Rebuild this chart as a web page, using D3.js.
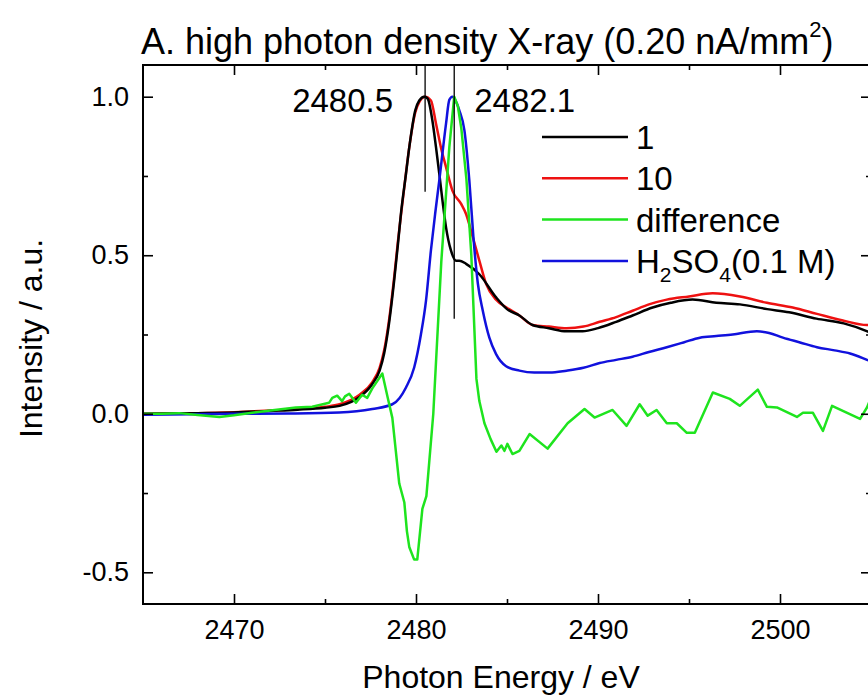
<!DOCTYPE html>
<html>
<head>
<meta charset="utf-8">
<script src="https://cdn.jsdelivr.net/npm/d3@7"></script>
<style>
  html, body { margin: 0; padding: 0; background: #fff; }
  svg { display: block; font-family: "Liberation Sans", Arial, Helvetica, sans-serif; }
</style>
</head>
<body>
<svg id="chart" width="868" height="700"></svg>
<script>
// ---------- data ----------
const energy1 = [2465, 2468, 2470, 2472, 2473.5, 2475, 2475.8, 2476.9, 2477.6, 2478.0, 2478.25, 2478.53, 2478.8, 2479.0, 2479.17, 2479.45, 2479.63, 2479.96, 2480.18, 2480.46, 2480.64, 2480.9, 2481.1, 2481.28, 2481.46, 2481.65, 2481.92, 2482.2, 2482.38, 2482.75, 2483.48, 2484.4, 2485.0, 2485.68, 2486.4, 2487.3, 2488.27, 2489.15, 2490.0, 2491.0, 2491.9, 2493.0, 2494.0, 2495.2, 2496.5, 2497.8, 2499.3, 2500.5, 2502.0, 2503.5, 2504.8, 2505];
const intensity1 = [0.0, 0.002, 0.004, 0.009, 0.013, 0.019, 0.025, 0.053, 0.094, 0.136, 0.19, 0.29, 0.42, 0.53, 0.63, 0.757, 0.84, 0.957, 0.988, 1.0, 0.994, 0.925, 0.84, 0.757, 0.67, 0.588, 0.515, 0.483, 0.483, 0.473, 0.44, 0.367, 0.33, 0.31, 0.28, 0.27, 0.26, 0.26, 0.27, 0.29, 0.31, 0.335, 0.35, 0.36, 0.35, 0.345, 0.33, 0.32, 0.30, 0.285, 0.26, 0.255];

const energy10 = [2465, 2468, 2470, 2472, 2473.5, 2475, 2475.8, 2476.9, 2477.6, 2478.0, 2478.25, 2478.53, 2478.8, 2479.0, 2479.17, 2479.45, 2479.63, 2479.96, 2480.2, 2480.5, 2480.82, 2481.1, 2481.37, 2481.65, 2482.0, 2482.48, 2482.75, 2483.12, 2483.48, 2483.85, 2484.4, 2484.95, 2485.68, 2486.4, 2487.3, 2488.27, 2489.2, 2490.09, 2491.0, 2491.9, 2492.8, 2493.78, 2495.0, 2496.3, 2497.8, 2499.28, 2500.7, 2502.03, 2503.4, 2504.78, 2505];
const intensity10 = [0.0, 0.002, 0.005, 0.01, 0.015, 0.022, 0.03, 0.06, 0.1, 0.145, 0.2, 0.3, 0.43, 0.54, 0.625, 0.76, 0.84, 0.95, 0.985, 1.0, 0.988, 0.915, 0.84, 0.778, 0.704, 0.662, 0.63, 0.557, 0.483, 0.41, 0.36, 0.336, 0.31, 0.28, 0.275, 0.27, 0.275, 0.29, 0.305, 0.325, 0.345, 0.36, 0.37, 0.38, 0.37, 0.35, 0.335, 0.315, 0.295, 0.28, 0.28];

const energyDiff = [2465, 2466, 2467, 2468, 2469.2, 2470, 2471, 2472, 2473.4, 2474.3, 2475.23, 2475.4, 2475.67, 2475.94, 2476.1, 2476.33, 2476.7, 2477.04, 2477.32, 2477.6, 2478.15, 2478.45, 2478.7, 2479.08, 2479.36, 2479.5, 2479.63, 2479.9, 2480.07, 2480.35, 2480.57, 2480.95, 2481.39, 2481.83, 2482.1, 2482.3, 2482.49, 2482.77, 2483.04, 2483.32, 2483.48, 2483.76, 2484.1, 2484.42, 2484.69, 2484.86, 2485.02, 2485.3, 2485.68, 2486.24, 2487.23, 2488.33, 2489.26, 2489.81, 2490.8, 2491.57, 2492.29, 2492.73, 2493.22, 2493.78, 2494.33, 2494.88, 2495.32, 2496.31, 2497.24, 2497.79, 2498.78, 2499.28, 2499.83, 2500.93, 2501.26, 2501.81, 2502.36, 2502.86, 2504.4, 2504.78, 2505];
const intensityDiff = [0.0, 0.0, 0.002, -0.004, -0.01, -0.005, 0.003, 0.01, 0.02, 0.022, 0.035, 0.05, 0.057, 0.04, 0.055, 0.063, 0.035, 0.06, 0.05, 0.08, 0.127, 0.05, -0.013, -0.22, -0.28, -0.37, -0.42, -0.46, -0.46, -0.30, -0.26, 0.0, 0.48, 0.84, 1.0, 0.97, 0.90, 0.74, 0.5, 0.11, 0.04, -0.03, -0.08, -0.12, -0.10, -0.117, -0.095, -0.127, -0.117, -0.064, -0.11, -0.03, 0.015, -0.012, 0.012, -0.038, 0.03, -0.006, 0.012, -0.03, -0.03, -0.06, -0.06, 0.067, 0.047, 0.025, 0.076, 0.022, 0.02, -0.01, 0.003, 0.003, -0.054, 0.025, -0.016, 0.02, 0.05];

const energyAcid = [2465, 2470, 2473, 2475.78, 2477.6, 2478.7, 2479.1, 2479.45, 2479.9, 2480.27, 2480.55, 2480.82, 2481.05, 2481.28, 2481.65, 2481.83, 2482.0, 2482.15, 2482.38, 2482.66, 2482.93, 2483.15, 2483.4, 2483.67, 2484.03, 2484.4, 2484.95, 2485.68, 2486.5, 2487.34, 2488.27, 2489.2, 2490.09, 2491.0, 2491.9, 2492.8, 2493.78, 2494.7, 2495.6, 2496.5, 2497.4, 2498.73, 2499.4, 2500.16, 2501.1, 2502.03, 2503.0, 2503.85, 2504.78, 2505];
const intensityAcid = [-0.003, 0.0, 0.001, 0.004, 0.015, 0.03, 0.05, 0.083, 0.146, 0.25, 0.357, 0.515, 0.63, 0.736, 0.915, 0.99, 1.0, 0.99, 0.957, 0.894, 0.736, 0.56, 0.41, 0.325, 0.24, 0.188, 0.15, 0.136, 0.13, 0.13, 0.136, 0.145, 0.16, 0.17, 0.18, 0.195, 0.21, 0.225, 0.24, 0.245, 0.25, 0.26, 0.255, 0.24, 0.225, 0.21, 0.2, 0.19, 0.17, 0.165];

const seriesNames = ["1", "10", "difference", "H2SO4"];
const xMajorTicks = [2470, 2480, 2490, 2500];
const xMinorTicks = [2475, 2485, 2495];
const yMajorTicks = [-0.5, 0.0, 0.5, 1.0];
const yMinorTicks = [-0.25, 0.25, 0.75];
const peakMarks = [2480.5, 2482.1];
const peakMarkEnds = [0.70, 0.30];

// ---------- layout ----------
const svg = d3.select("#chart");
const pLeft = 143, pTop = 65, pRight = 871, pBottom = 604;
const x = d3.scaleLinear().domain([2465, 2505]).range([pLeft, pRight]);
const y = d3.scaleLinear().domain([-0.6, 1.1]).range([pBottom, pTop]);

const colors = { "1": "#000000", "10": "#ee1111", "difference": "#1ee41e", "H2SO4": "#1111dd" };

svg.append("defs").append("clipPath").attr("id", "clip")
  .append("rect").attr("x", pLeft).attr("y", pTop).attr("width", pRight - pLeft).attr("height", pBottom - pTop);

const smooth = d3.line().x(d => x(d[0])).y(d => y(d[1])).curve(d3.curveMonotoneX);
const jagged = d3.line().x(d => x(d[0])).y(d => y(d[1]));

const zip = (a, b) => a.map((v, i) => [v, b[i]]);
const plot = svg.append("g").attr("clip-path", "url(#clip)");

plot.append("path").datum(zip(energy10, intensity10)).attr("d", smooth)
  .attr("fill", "none").attr("stroke", colors["10"]).attr("stroke-width", 2.5).attr("stroke-linejoin", "round");
plot.append("path").datum(zip(energy1, intensity1)).attr("d", smooth)
  .attr("fill", "none").attr("stroke", colors["1"]).attr("stroke-width", 2.5).attr("stroke-linejoin", "round");
plot.append("path").datum(zip(energyAcid, intensityAcid)).attr("d", smooth)
  .attr("fill", "none").attr("stroke", colors["H2SO4"]).attr("stroke-width", 2.5).attr("stroke-linejoin", "round");
plot.append("path").datum(zip(energyDiff, intensityDiff)).attr("d", jagged)
  .attr("fill", "none").attr("stroke", colors["difference"]).attr("stroke-width", 2.5).attr("stroke-linejoin", "round");

peakMarks.forEach((e, i) => {
  svg.append("line").attr("x1", x(e)).attr("x2", x(e)).attr("y1", pTop).attr("y2", y(peakMarkEnds[i]))
    .attr("stroke", "#000").attr("stroke-width", 1.3);
});

// ---------- axes ----------
const tickFont = 27;
function styleAxis(g) {
  g.select(".domain").remove();
  g.selectAll(".tick line").attr("stroke", "#000").attr("stroke-width", 1.6);
  g.selectAll("text").attr("font-size", tickFont).attr("fill", "#000")
    .attr("font-family", '"Liberation Sans", Arial, sans-serif');
}
svg.append("g").attr("transform", `translate(0,${pBottom})`)
  .call(d3.axisBottom(x).tickValues(xMajorTicks).tickSize(-10).tickPadding(16).tickFormat(d3.format("d")))
  .call(styleAxis);
svg.append("g").attr("transform", `translate(0,${pBottom})`)
  .call(d3.axisBottom(x).tickValues(xMinorTicks).tickSize(-5).tickFormat(""))
  .call(styleAxis);
svg.append("g").attr("transform", `translate(0,${pTop})`)
  .call(d3.axisTop(x).tickValues(xMajorTicks).tickSize(-10).tickFormat(""))
  .call(styleAxis);
svg.append("g").attr("transform", `translate(0,${pTop})`)
  .call(d3.axisTop(x).tickValues(xMinorTicks).tickSize(-5).tickFormat(""))
  .call(styleAxis);
svg.append("g").attr("transform", `translate(${pLeft},0)`)
  .call(d3.axisLeft(y).tickValues(yMajorTicks).tickSize(-10).tickPadding(14).tickFormat(d => d.toFixed(1)))
  .call(styleAxis);
svg.append("g").attr("transform", `translate(${pLeft},0)`)
  .call(d3.axisLeft(y).tickValues(yMinorTicks).tickSize(-5).tickFormat(""))
  .call(styleAxis);
svg.append("g").attr("transform", `translate(${pRight},0)`)
  .call(d3.axisRight(y).tickValues(yMajorTicks).tickSize(-10).tickFormat(""))
  .call(styleAxis);
svg.append("g").attr("transform", `translate(${pRight},0)`)
  .call(d3.axisRight(y).tickValues(yMinorTicks).tickSize(-5).tickFormat(""))
  .call(styleAxis);

svg.append("rect").attr("x", pLeft).attr("y", pTop).attr("width", pRight - pLeft).attr("height", pBottom - pTop)
  .attr("fill", "none").attr("stroke", "#000").attr("stroke-width", 2);

// ---------- texts ----------
const title = svg.append("text").attr("x", 141).attr("y", 54).attr("font-size", 36).attr("fill", "#000");
title.append("tspan").text("A. high photon density X-ray (0.20 nA/mm");
title.append("tspan").attr("font-size", 22).attr("dy", -17).text("2");
title.append("tspan").attr("dy", 17).text(")");

svg.append("text").attr("x", (pLeft + pRight) / 2 - 6).attr("y", 688).attr("text-anchor", "middle")
  .attr("font-size", 32).attr("fill", "#000").text("Photon Energy / eV");

svg.append("text").attr("transform", `translate(42,${(pTop + pBottom) / 2 + 4}) rotate(-90)`)
  .attr("text-anchor", "middle").attr("font-size", 32).attr("fill", "#000").text("Intensity / a.u.");

svg.append("text").attr("x", x(peakMarks[0]) - 32).attr("y", 112).attr("text-anchor", "end")
  .attr("font-size", 33).attr("fill", "#000").text(String(peakMarks[0]));
svg.append("text").attr("x", x(peakMarks[1]) + 20).attr("y", 112).attr("text-anchor", "start")
  .attr("font-size", 33).attr("fill", "#000").text(String(peakMarks[1]));

// ---------- legend ----------
const legend = svg.append("g");
seriesNames.forEach((name, i) => {
  const ly = 137 + i * 41.3;
  legend.append("line").attr("x1", 542).attr("x2", 628).attr("y1", ly).attr("y2", ly)
    .attr("stroke", colors[name]).attr("stroke-width", 2.5);
  const t = legend.append("text").attr("x", 636).attr("y", ly + 12).attr("font-size", 33).attr("fill", "#000");
  if (name === "H2SO4") {
    t.append("tspan").text("H");
    t.append("tspan").attr("font-size", 21).attr("dy", 9).text("2");
    t.append("tspan").attr("dy", -9).text("SO");
    t.append("tspan").attr("font-size", 21).attr("dy", 9).text("4");
    t.append("tspan").attr("dy", -9).text("(0.1 M)");
  } else {
    t.text(name);
  }
});
</script>
</body>
</html>
